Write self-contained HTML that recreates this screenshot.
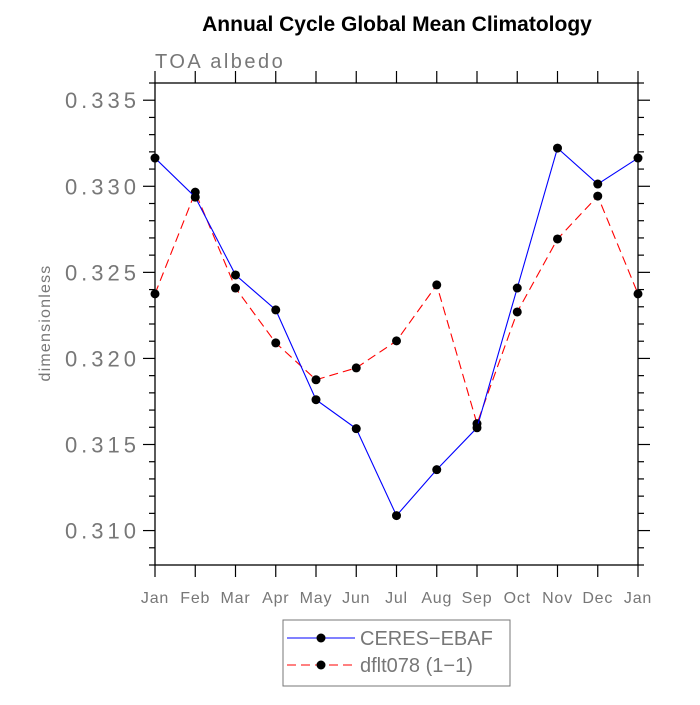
<!DOCTYPE html>
<html><head><meta charset="utf-8"><style>
body{margin:0;background:#fff}
svg text{font-family:"Liberation Sans",sans-serif}
</style></head><body>
<svg id="chart" width="700" height="700" viewBox="0 0 700 700">
<text x="397" y="31" text-anchor="middle" font-size="21" font-weight="bold" fill="#000">Annual Cycle Global Mean Climatology</text>
<text x="155" y="68" font-size="20" letter-spacing="2.5" fill="#777">TOA  albedo</text>
<text transform="translate(50,323) rotate(-90)" text-anchor="middle" font-size="16" letter-spacing="1.2" fill="#777">dimensionless</text>
<g id="axes"></g>
<g id="series"></g>
<g>
<rect x="283" y="620" width="227" height="66" fill="#fff" stroke="#777" stroke-width="1"/>
<g>
<line x1="287" y1="638" x2="355" y2="638" stroke="#00f" stroke-width="1"/>
<circle cx="321" cy="638" r="4.5" fill="#000"/>
<text x="360" y="645" font-size="20" fill="#777">CERES−EBAF</text></g>
<g>
<line x1="287" y1="665" x2="355" y2="665" stroke="#f00" stroke-width="1" stroke-dasharray="9,5"/>
<circle cx="321" cy="665" r="4.5" fill="#000"/>
<text x="360" y="672" font-size="20" fill="#777">dflt078 (1−1)</text></g>
</g>
</svg>
<script>
const months=["Jan","Feb","Mar","Apr","May","Jun","Jul","Aug","Sep","Oct","Nov","Dec","Jan"];
const ceres=[0.33164,0.32937,0.32485,0.32282,0.3176,0.31592,0.31087,0.31354,0.31597,0.32409,0.33222,0.33013,0.33164];
const dflt=[0.32375,0.32966,0.32409,0.3209,0.31876,0.31945,0.32102,0.32427,0.31621,0.3227,0.32694,0.32943,0.32375];
const yTicks=[0.310,0.315,0.320,0.325,0.330,0.335];
const yTickLabels=["0.310","0.315","0.320","0.325","0.330","0.335"];
const L=155,R=638,T=83,B=565,YMIN=0.308,YMAX=0.336;
const xs=i=>L+(R-L)*i/(months.length-1);
const ys=v=>B-(v-YMIN)/(YMAX-YMIN)*(B-T);
const NS="http://www.w3.org/2000/svg";
function mk(tag,attrs,parent){const e=document.createElementNS(NS,tag);for(const k in attrs)e.setAttribute(k,attrs[k]);parent.appendChild(e);return e;}
const ax=document.getElementById('axes');
const frame=mk('rect',{x:L,y:T,width:R-L,height:B-T,fill:'none',stroke:'#000','stroke-width':1.3},ax);


months.forEach((m,i)=>{
  const x=xs(i);
  mk('line',{x1:x,y1:B,x2:x,y2:B+12,stroke:'#000','stroke-width':1.2},ax);
  mk('line',{x1:x,y1:T,x2:x,y2:T-12,stroke:'#000','stroke-width':1.2},ax);
  const t=mk('text',{x:x,y:B+38,'text-anchor':'middle','font-size':16,'letter-spacing':0.8,fill:'#777'},ax);
  t.textContent=m;
  
  
});
for(let k=0;k<=28;k++){
  const v=YMIN+k*0.001;const y=ys(v);
  const major=yTicks.some(t=>Math.abs(t-v)<1e-6);
  const len=major?12:6;
  mk('line',{x1:L,y1:y,x2:L-len,y2:y,stroke:'#000','stroke-width':1.2},ax);
  mk('line',{x1:R,y1:y,x2:R+len,y2:y,stroke:'#000','stroke-width':1.2},ax);
}
yTicks.forEach((v,i)=>{
  const t=mk('text',{x:L-15,y:ys(v)+8,'text-anchor':'end','font-size':22,'letter-spacing':4,fill:'#777'},ax);
  t.textContent=yTickLabels[i];
  
  
});
const sg=document.getElementById('series');
function drawSeries(vals,color,dash,name){
  const g=mk('g',{},sg);
  
  
  const p=mk('polyline',{points:vals.map((v,i)=>xs(i)+','+ys(v)).join(' '),fill:'none',stroke:color,'stroke-width':1.1,'stroke-dasharray':dash},g);
  
  
  vals.forEach((v,i)=>{
    const c=mk('circle',{cx:xs(i),cy:ys(v),r:4.5,fill:'#000'},g);
    
    
  });
}
drawSeries(dflt,'#f00','9,5','dflt078-series');
drawSeries(ceres,'#00f','none','ceres-ebaf-series');
</script>
</body></html>
